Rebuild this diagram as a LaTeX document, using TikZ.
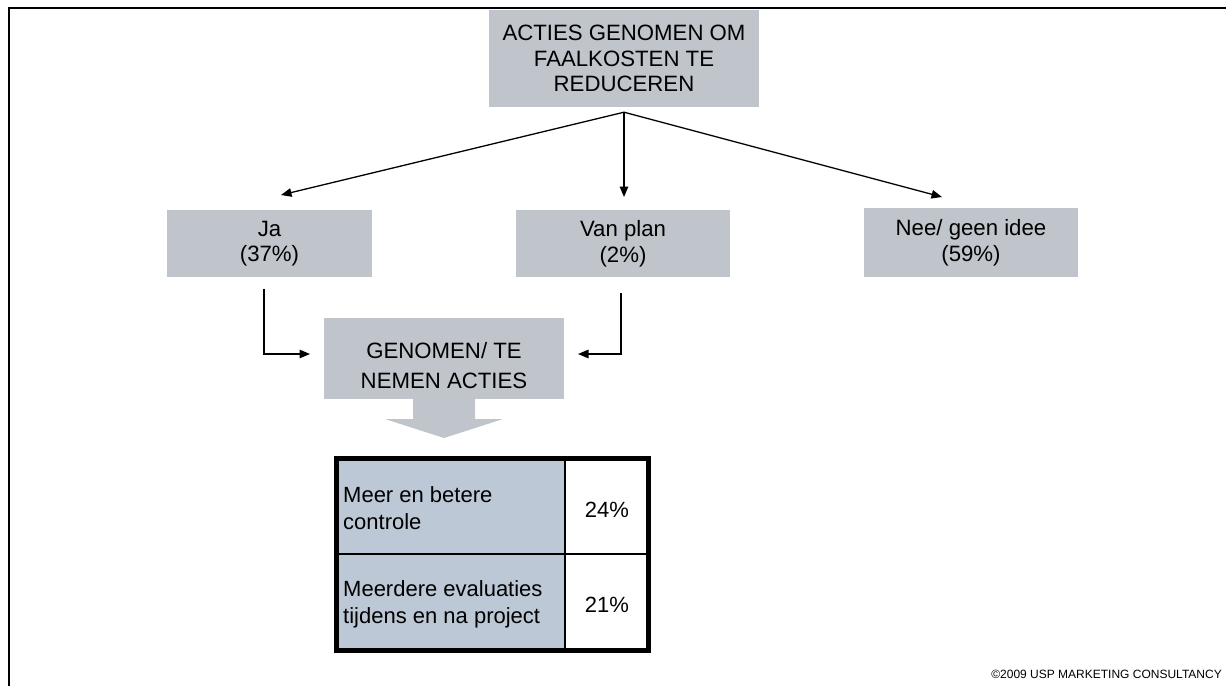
\documentclass[tikz,border=0pt]{standalone}
\usepackage{fontspec}
\setmainfont{Liberation Sans}
\usetikzlibrary{arrows.meta,calc}
\definecolor{boxgray}{RGB}{191,197,203}
\definecolor{cellblue}{RGB}{188,200,214}
\tikzset{
  box/.style={fill=boxgray, inner sep=0pt, align=center, font=\fontsize{22.2}{25.5}\selectfont},
  txt/.style={inner sep=0pt, font=\fontsize{22}{27}\selectfont},
  arr/.style={line width=1.3pt, -{Triangle[length=10.5pt,width=8.5pt]}},
}
\begin{document}
\begin{tikzpicture}[x=1pt,y=-1pt]
\useasboundingbox (0,0) rectangle (1226,686);
% frame
\draw[line width=2pt] (9,686) -- (9,7.5) -- (1226,7.5);
% boxes
\node[box, minimum width=270, minimum height=97] (top) at (624,58.5) {ACTIES GENOMEN OM\\FAALKOSTEN TE\\REDUCEREN};
\node[box, minimum width=205, minimum height=67] (ja) at (269.5,243.5) {Ja\\(37\%)};
\node[box, minimum width=214, minimum height=67] (van) at (623,243.5) {Van plan\\(2\%)};
\node[box, minimum width=214, minimum height=69] (nee) at (971,242.5) {Nee/ geen idee\\(59\%)};
\node[box, minimum width=240, minimum height=81, text depth=0pt] (gen) at (444,358.5) {\raisebox{3pt}{\begin{tabular}{@{}c@{}}GENOMEN/ TE\\[5pt]NEMEN ACTIES\end{tabular}}};
% big down arrow
\fill[boxgray] (413,398) -- (475,398) -- (475,419) -- (503,419) -- (444,438) -- (385,419) -- (413,419) -- cycle;
% connectors
\coordinate (apex) at ($(top.south)+(0,5)$);
\coordinate (jaIn) at (281,195);
\coordinate (vanIn) at (624,197);
\coordinate (neeIn) at (942,197);
\draw[arr] (apex) -- (jaIn);
\draw[arr] (apex) -- (vanIn);
\draw[arr] (apex) -- (neeIn);
\coordinate (jaOut) at (264,289);
\coordinate (genL) at (310,354);
\coordinate (vanOut) at (621,293);
\coordinate (genR) at (578,354);
\draw[arr] (jaOut) |- (genL);
\draw[arr] (vanOut) |- (genR);
% table
\fill[cellblue] (336.5,458.5) rectangle (565,650.5);
\fill[white] (565,458.5) rectangle (648.5,650.5);
\draw[line width=2pt] (565,458.5) -- (565,650.5);
\draw[line width=2pt] (336.5,554) -- (648.5,554);
\draw[line width=5pt] (336.5,458.5) rectangle (648.5,650.5);
\node[txt, anchor=west, align=left] (r1) at (343,508) {Meer en betere\\controle};
\node[txt, anchor=west, align=left] (r2) at (343,604) {Meerdere evaluaties\\tijdens en na project};
\node[txt] (v1) at (607,510) {24\%};
\node[txt] (v2) at (607,605) {21\%};
% copyright
\node[inner sep=0pt, anchor=east, font=\fontsize{12}{14}\selectfont] (copy) at (1222,674) {©2009 USP MARKETING CONSULTANCY};
\end{tikzpicture}
\end{document}
